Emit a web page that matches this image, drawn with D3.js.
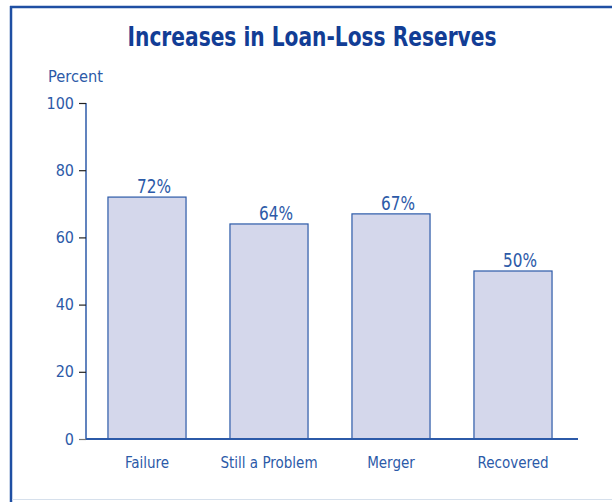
<!DOCTYPE html>
<html>
<head>
<meta charset="utf-8">
<script src="https://cdn.jsdelivr.net/npm/d3@7"></script>
<style>
body { margin:0; background:#fff; }
text { font-family: "Liberation Sans Narrow", "DejaVu Sans Condensed", "Liberation Sans", sans-serif; }
</style>
</head>
<body>
<script>
const width = 612;
const height = 502;

const categories = ["Failure", "Still a Problem", "Merger", "Recovered"];
const values = [72, 64, 67, 50];
const yTicks = [0, 20, 40, 60, 80, 100];

const svg = d3.select("body").append("svg")
.attr("width", width)
.attr("height", height);

svg.append("rect").attr("width", width).attr("height", height).attr("fill", "#fff");

// frame
svg.append("line").attr("x1", 10).attr("x2", width).attr("y1", 7).attr("y2", 7)
.attr("stroke", "#1f4fa3").attr("stroke-width", 2.5);
svg.append("line").attr("x1", 11).attr("x2", 11).attr("y1", 6).attr("y2", height)
.attr("stroke", "#1f4fa3").attr("stroke-width", 2.5);
svg.append("line").attr("x1", 12).attr("x2", width).attr("y1", 499.5).attr("y2", 499.5)
.attr("stroke", "#d6e0ec").attr("stroke-width", 1);

svg.append("text")
.attr("x", 312).attr("y", 46)
.attr("text-anchor", "middle")
.attr("font-size", "27px").attr("font-weight", "bold")
.attr("textLength", 369).attr("lengthAdjust", "spacingAndGlyphs")
.attr("fill", "#123d95")
.text("Increases in Loan-Loss Reserves");

svg.append("text")
.attr("x", 48).attr("y", 82)
.attr("font-size", "15px")
.attr("textLength", 55).attr("lengthAdjust", "spacingAndGlyphs")
.attr("fill", "#2c5aa8")
.text("Percent");

const x = d3.scaleBand().domain(categories).range([86, 574]).paddingInner(0.36).paddingOuter(0.18);
const y = d3.scaleLinear().domain([0, 100]).range([439, 103]);

// y axis
const yAxis = svg.append("g").attr("transform", "translate(86,0)")
.call(d3.axisLeft(y).tickValues(yTicks).tickSize(7).tickPadding(5));
yAxis.select(".domain").attr("stroke", "#2c5aa8").attr("stroke-width", 1.5)
.attr("d", "M0," + y(100) + "V" + y(0));
yAxis.selectAll(".tick line").attr("stroke", "#222").attr("stroke-width", 1.2);
yAxis.selectAll(".tick").filter(d => d === 0).select("line").attr("stroke", "#777");
yAxis.selectAll(".tick text").attr("fill", "#2c5aa8").attr("font-size", "16px")
.style("font-family", "\"Liberation Sans Narrow\", \"DejaVu Sans Condensed\", sans-serif");

// bars
svg.selectAll(".bar")
.data(values)
.join("rect")
.attr("class", "bar")
.attr("x", (d, i) => x(categories[i]))
.attr("y", d => y(d))
.attr("width", x.bandwidth())
.attr("height", d => y(0) - y(d))
.attr("fill", "#d4d7eb")
.attr("stroke", "#2c5aa8")
.attr("stroke-width", 1.2);

svg.selectAll(".value")
.data(values)
.join("text")
.attr("class", "value")
.attr("x", (d, i) => x(categories[i]) + x.bandwidth() / 2 + 7)
.attr("y", d => y(d) - 4)
.attr("text-anchor", "middle")
.attr("font-size", "19px")
.attr("textLength", 34).attr("lengthAdjust", "spacingAndGlyphs")
.attr("fill", "#2c5aa8")
.text(d => d + "%");

// x axis
svg.append("line").attr("x1", 86).attr("x2", 578).attr("y1", y(0)).attr("y2", y(0))
.attr("stroke", "#2c5aa8").attr("stroke-width", 2);

svg.selectAll(".cat")
.data(categories)
.join("text")
.attr("class", "cat")
.attr("x", d => x(d) + x.bandwidth() / 2)
.attr("y", 468)
.attr("text-anchor", "middle")
.attr("font-size", "15px")
.attr("fill", "#2c5aa8")
.text(d => d);
</script>
</body>
</html>
